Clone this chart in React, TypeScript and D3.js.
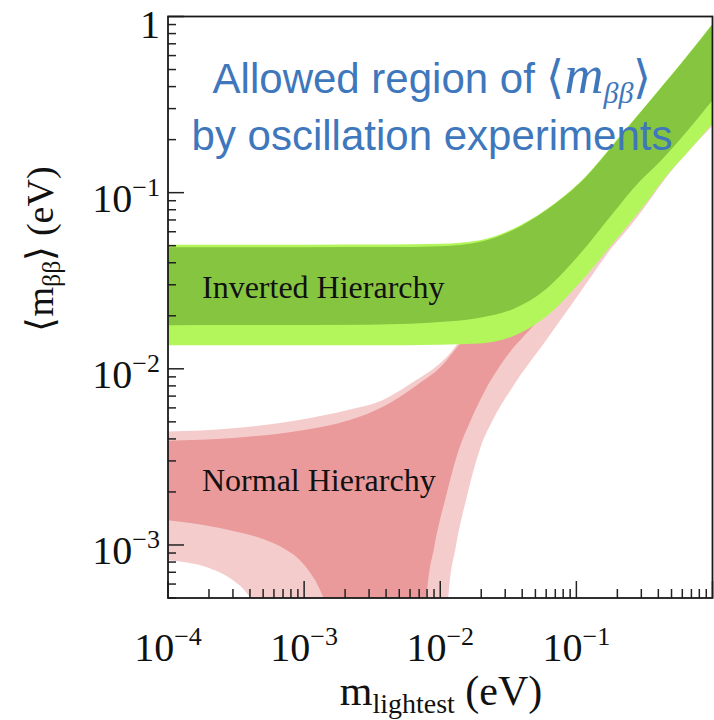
import * as d3 from 'd3';

type Pt = [number, number];

// axis decades
const X_MAJOR = [1e-4, 1e-3, 1e-2, 1e-1];
const X_MAJOR_EXP = ['−4', '−3', '−2', '−1'];
const Y_MAJOR = [1e-3, 1e-2, 1e-1];
const Y_MAJOR_EXP = ['−3', '−2', '−1'];

// inverted hierarchy, [m_lightest, <m_bb>] (eV)
const ihOuterUpper: Pt[] = [
  [1e-4, 0.0506], [1e-3, 0.0506], [4e-3, 0.0507], [0.01, 0.0512], [0.0195, 0.0537],
  [0.0341, 0.0622], [0.0603, 0.0805], [0.106, 0.1145], [0.219, 0.219], [0.389, 0.37],
  [0.68, 0.625], [1, 0.91],
];
const ihInnerUpper: Pt[] = [
  [1e-4, 0.049], [1e-3, 0.049], [4e-3, 0.0491], [0.01, 0.0497], [0.0195, 0.0525],
  [0.0341, 0.0612], [0.0603, 0.0797], [0.106, 0.1135], [0.219, 0.217], [0.389, 0.368],
  [0.68, 0.62], [1, 0.905],
];
const ihInnerLower: Pt[] = [
  [1e-4, 0.0177], [3e-3, 0.0178], [0.0118, 0.0186], [0.0195, 0.0195], [0.0341, 0.0218],
  [0.0603, 0.0285], [0.106, 0.0448], [0.185, 0.0762], [0.2925, 0.116], [0.41, 0.15],
  [1, 0.335],
];
const ihOuterLower: Pt[] = [
  [1e-4, 0.0136], [3e-3, 0.0136], [0.0099, 0.0137], [0.0195, 0.0139], [0.0341, 0.0153],
  [0.0603, 0.0199], [0.106, 0.0308], [0.185, 0.0515], [0.327, 0.088], [0.46, 0.125],
  [0.681, 0.175], [1, 0.247],
];

// normal hierarchy
const nhOuterUpper: Pt[] = [
  [1e-4, 4.4e-3], [3e-4, 4.6e-3], [9.2e-4, 5.13e-3], [2.13e-3, 5.85e-3], [3.79e-3, 6.66e-3],
  [6e-3, 8.2e-3], [0.0112, 0.0117], [0.02, 0.0215], [0.05, 0.052], [0.1, 0.1],
  [0.3, 0.27], [1, 0.8],
];
const nhInnerUpper: Pt[] = [
  [1e-4, 3.91e-3], [3e-4, 4.05e-3], [9.2e-4, 4.45e-3], [2.13e-3, 5.1e-3], [3.79e-3, 6.1e-3],
  [6.6e-3, 8.0e-3], [0.0105, 0.0106], [0.013, 0.013], [0.02, 0.019], [0.05, 0.047],
  [0.1, 0.09], [0.3, 0.25], [1, 0.78],
];
const nhOuterLower: Pt[] = [
  [1e-4, 8.2e-4], [2e-4, 7.4e-4], [3e-4, 6.3e-4], [3.8e-4, 5.3e-4], [4.4e-4, 4.3e-4],
  [5e-4, 2.5e-4], [5.5e-4, 1e-5], [0.0105, 1e-5], [0.0112, 3e-4], [0.01147, 5.1e-4],
  [0.01302, 9.8e-4], [0.01568, 1.88e-3], [0.01986, 3.62e-3], [0.02433, 5.13e-3],
  [0.0341, 7.92e-3], [0.0603, 0.0146], [0.106, 0.027], [0.185, 0.0494], [0.2466, 0.0641],
  [0.3, 0.078], [0.45, 0.12], [1, 0.24],
];
const nhInnerLower: Pt[] = [
  [1e-4, 1.38e-3], [2e-4, 1.28e-3], [3e-4, 1.2e-3], [5e-4, 1.08e-3], [7e-4, 9.6e-4],
  [9e-4, 8.4e-4], [1.1e-3, 7e-4], [1.3e-3, 5.6e-4], [1.42e-3, 4.6e-4], [1.55e-3, 2.5e-4],
  [1.7e-3, 1e-5], [7.3e-3, 1e-5], [7.8e-3, 3e-4], [7.97e-3, 5.1e-4], [9.05e-3, 9.8e-4],
  [0.011, 1.88e-3], [0.01393, 3.62e-3], [0.01678, 5.13e-3], [0.0202, 6.95e-3],
  [0.0307, 0.01173], [0.0478, 0.01736], [0.07, 0.0243], [0.1, 0.035], [0.2, 0.066],
  [0.5, 0.16], [1, 0.32],
];

const BANDS = [
  { id: 'nhOut', upper: nhOuterUpper, lower: nhOuterLower, fill: '#f5cccc' },
  { id: 'nhIn', upper: nhInnerUpper, lower: nhInnerLower, fill: '#ea9a9a' },
  { id: 'ihOut', upper: ihOuterUpper, lower: ihOuterLower, fill: '#b3f65c' },
  { id: 'ihIn', upper: ihInnerUpper, lower: ihInnerLower, fill: '#86c540' },
];

const SERIF = '"Liberation Serif", "Times New Roman", serif';
const SANS = '"Liberation Sans", Arial, sans-serif';
const BLUE = '#3f77bd';

export default function App() {
  const width = 714;
  const height = 720;
  const x = d3.scaleLog().domain([1e-4, 1]).range([168, 712.5]);
  const y = d3.scaleLog().domain([5e-4, 1]).range([598, 16.5]);
  const [x0, x1] = x.range();
  const [yb, yt] = y.range();

  // band = (below upper curve) ∩ (above lower curve)
  const belowUpper = d3
    .area<Pt>()
    .x((d) => x(d[0]))
    .y0(yb + 400)
    .y1((d) => y(d[1]))
    .curve(d3.curveMonotoneX);
  const aboveLower = d3
    .area<Pt>()
    .x((d) => x(d[0]))
    .y0((d) => y(d[1]))
    .y1(yt - 40)
    .curve(d3.curveMonotoneX);

  const isMajor = (v: number) => Math.abs(Math.log10(v) - Math.round(Math.log10(v))) < 1e-6;
  const xTicks = x.ticks();
  const yTicks = y.ticks();

  return (
    <svg
      width={width}
      height={height}
      style={{ position: 'absolute', left: 0, top: 0, background: '#fff' }}
    >
      <defs>
        <clipPath id="plot">
          <rect x={x0} y={yt} width={x1 - x0} height={yb - yt} />
        </clipPath>
        {BANDS.map((b) => (
          <clipPath id={`clip-${b.id}`} key={b.id}>
            <path d={belowUpper(b.upper) ?? ''} />
          </clipPath>
        ))}
      </defs>

      <g clipPath="url(#plot)">
        {BANDS.map((b) => (
          <g key={b.id} clipPath={`url(#clip-${b.id})`}>
            <path d={aboveLower(b.lower) ?? ''} fill={b.fill} />
          </g>
        ))}
      </g>

      {/* ticks */}
      <g stroke="#222" strokeWidth={1.5}>
        {xTicks.map((t, i) => (
          <line key={`xt${i}`} x1={x(t)} x2={x(t)} y1={yb} y2={yb - (isMajor(t) ? 17 : 9)} />
        ))}
        {yTicks.map((t, i) => (
          <line key={`yt${i}`} x1={x0} x2={x0 + (isMajor(t) ? 16 : 8)} y1={y(t)} y2={y(t)} />
        ))}
      </g>
      <rect
        x={x0}
        y={yt}
        width={x1 - x0}
        height={yb - yt}
        fill="none"
        stroke="#1a1a1a"
        strokeWidth={1.8}
      />

      {/* tick labels */}
      <g fontFamily={SERIF} fontSize={40} fill="#111">
        {X_MAJOR.map((v, i) => (
          <text key={`xl${i}`} x={x(v)} y={661} textAnchor="middle">
            10
            <tspan fontSize={26} dy={-16}>
              {X_MAJOR_EXP[i]}
            </tspan>
          </text>
        ))}
        {Y_MAJOR.map((v, i) => (
          <text key={`yl${i}`} x={160} y={y(v) + 19} textAnchor="end">
            10
            <tspan fontSize={26} dy={-16}>
              {Y_MAJOR_EXP[i]}
            </tspan>
          </text>
        ))}
        <text x={160} y={y(1) + 21} textAnchor="end">
          1
        </text>
      </g>

      {/* axis titles */}
      <text x={441} y={705} textAnchor="middle" fontFamily={SERIF} fontSize={42} fill="#111">
        m
        <tspan fontSize={28} dy={8}>
          lightest
        </tspan>
        <tspan dy={-8}> (eV)</tspan>
      </text>
      <text
        transform="translate(53,249) rotate(-90)"
        textAnchor="middle"
        fontFamily={SERIF}
        fontSize={38}
        fill="#111"
      >
        ⟨m
        <tspan fontSize={26} dy={7}>
          ββ
        </tspan>
        <tspan dy={-7}>⟩ (eV)</tspan>
      </text>

      {/* band labels */}
      <g fontFamily={SERIF} fontSize={32} fill="#111">
        <text x={202} y={298}>
          Inverted Hierarchy
        </text>
        <text x={202} y={491}>
          Normal Hierarchy
        </text>
      </g>

      {/* title */}
      <g fill={BLUE} fontSize={42} fontFamily={SANS}>
        <text x={432} y={93} textAnchor="middle">
          Allowed region of{' '}
          <tspan fontFamily={SERIF} fontSize={46}>
            ⟨
          </tspan>
          <tspan fontFamily={SERIF} fontStyle="italic" fontSize={54}>
            m
          </tspan>
          <tspan fontFamily={SERIF} fontStyle="italic" fontSize={30} dy={10}>
            ββ
          </tspan>
          <tspan fontFamily={SERIF} fontSize={46} dy={-10}>
            ⟩
          </tspan>
        </text>
        <text x={432} y={150} textAnchor="middle">
          by oscillation experiments
        </text>
      </g>
    </svg>
  );
}
